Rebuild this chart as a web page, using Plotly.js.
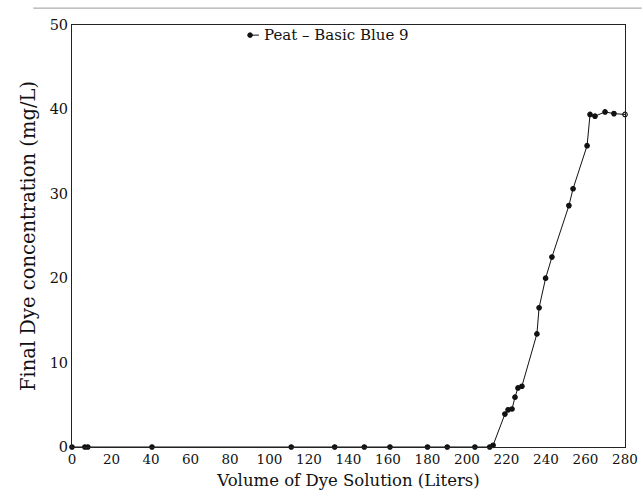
<!DOCTYPE html>
<html>
<head>
<meta charset="utf-8">
<script src="https://cdn.plot.ly/plotly-3.0.1.min.js"></script>
<style>html,body{margin:0;padding:0;background:#fff;}#chart{width:643px;height:501px;}</style>
</head>
<body>
<div id="chart"></div>
<script>
// Volume of dye solution (Liters)
const volume = [0, 6.5, 8, 40.5, 111, 133, 148, 161, 180, 190, 204, 211.5, 213.2,
  219.2, 220.8, 222.8, 224.3, 225.8, 227.8, 235.4, 236.5, 239.8, 243, 251.6, 253.7,
  260.8, 262.3, 264.8, 269.9, 274.4, 280];
// Final dye concentration (mg/L)
const concentration = [0, 0, 0, 0, 0, 0, 0, 0, 0, 0, 0, 0, 0.2,
  3.9, 4.4, 4.5, 5.9, 7.0, 7.2, 13.4, 16.5, 20.0, 22.5, 28.6, 30.6,
  35.7, 39.4, 39.2, 39.7, 39.5, 39.4];
const seriesName = "Peat \u2013 Basic Blue 9";
const xTicks = [0, 20, 40, 60, 80, 100, 120, 140, 160, 180, 200, 220, 240, 260, 280];
const yTicks = [0, 10, 20, 30, 40, 50];

const markerSymbols = volume.map((v, i) => i === volume.length - 1 ? "circle-open" : "circle");

const font = "DejaVu Serif";

const trace = {
  x: volume, y: concentration, name: seriesName,
  type: "scatter", mode: "lines+markers",
  line: {color: "#111", width: 1},
  marker: {color: "#111", size: 4.5, symbol: markerSymbols, line: {color: "#111", width: 1.2}},
  cliponaxis: false, showlegend: false
};

// legend key drawn in paper coordinates (key glyph + label)
const keyX = 0.319, keyY = 0.976;

const layout = {
  width: 643, height: 501,
  margin: {l: 72, r: 18, t: 25, b: 54},
  paper_bgcolor: "#fff", plot_bgcolor: "#fff",
  font: {family: font, color: "#111", size: 14},
  showlegend: false,
  xaxis: {
    range: [0, 280], tickvals: xTicks, ticktext: xTicks.map(String),
    showgrid: false, zeroline: false, showline: true, mirror: true,
    linecolor: "#222", linewidth: 1, ticks: "",
    tickfont: {family: font, size: 13.5, color: "#111"},
    title: {text: "Volume of Dye Solution (Liters)", standoff: 8,
      font: {family: font, size: 16.5, color: "#111"}}
  },
  yaxis: {
    range: [0, 50], tickvals: yTicks, ticktext: yTicks.map(String),
    showgrid: false, zeroline: false, showline: true, mirror: true,
    linecolor: "#222", linewidth: 1, ticks: "",
    tickfont: {family: font, size: 14.5, color: "#111"},
    title: {text: "Final Dye concentration (mg/L)", standoff: 8,
      font: {family: font, size: 19.5, color: "#111"}}
  },
  annotations: [
    {xref: "paper", yref: "paper", x: keyX + 0.024, y: keyY, xanchor: "left", yanchor: "middle",
      text: seriesName, showarrow: false, font: {family: font, size: 15, color: "#111"}}
  ],
  shapes: [
    {type: "line", xref: "paper", yref: "paper", x0: -0.07, x1: 1.03, y0: 1.04, y1: 1.04,
      line: {color: "#999", width: 1}},
    {type: "line", xref: "paper", yref: "paper", x0: keyX, x1: keyX + 0.019, y0: keyY, y1: keyY,
      line: {color: "#111", width: 1}},
    {type: "circle", xref: "paper", yref: "paper", xsizemode: "pixel", ysizemode: "pixel",
      xanchor: keyX + 0.003, yanchor: keyY, x0: -2.3, x1: 2.3, y0: -2.3, y1: 2.3,
      fillcolor: "#111", line: {color: "#111", width: 1}}
  ]
};

Plotly.newPlot("chart", [trace], layout, {displayModeBar: false, staticPlot: true});
</script>
</body>
</html>
